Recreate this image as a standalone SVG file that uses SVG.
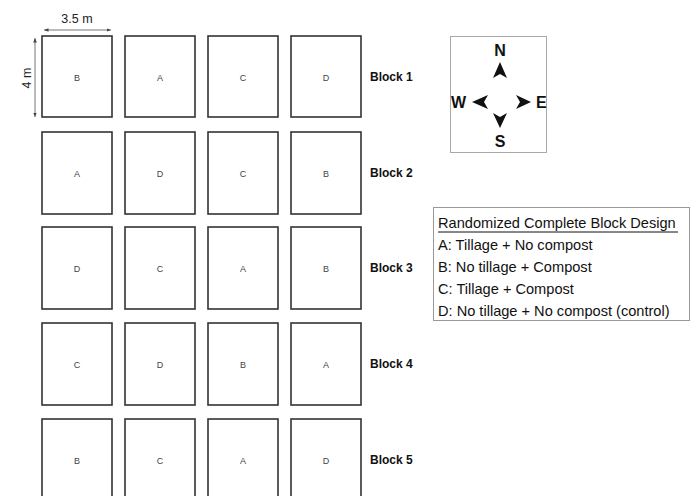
<svg xmlns="http://www.w3.org/2000/svg" width="698" height="496" viewBox="0 0 698 496">
<defs>
<style>
.plot{fill:#fff;stroke:#333;stroke-width:1.6}
.lt{font-family:"Liberation Sans",Arial,sans-serif;font-size:9px;fill:#444;text-anchor:middle}
.blk{font-family:"Liberation Sans",Arial,sans-serif;font-size:12px;font-weight:bold;fill:#111}
.dim{stroke:#666;stroke-width:0.9;fill:none}
.dimt{font-family:"Liberation Sans",Arial,sans-serif;font-size:12.5px;fill:#222}
.cp{font-family:"Liberation Sans",Arial,sans-serif;font-size:16px;font-weight:bold;fill:#111}
.leg{font-family:"Liberation Sans",Arial,sans-serif;font-size:14.6px;fill:#111}
</style>
<marker id="ah" viewBox="0 0 10 10" refX="10" refY="5" markerWidth="5" markerHeight="5" orient="auto-start-reverse">
<path d="M0,1 L10,5 L0,9 Z" fill="#444"/>
</marker>
</defs>
<rect width="698" height="496" fill="#fff"/>

<g id="dimensions">
<line class="dim" x1="44" y1="30" x2="111" y2="30" marker-start="url(#ah)" marker-end="url(#ah)"/>
<text class="dimt" x="77" y="23" text-anchor="middle">3.5 m</text>
<line class="dim" x1="35" y1="38" x2="35" y2="117" marker-start="url(#ah)" marker-end="url(#ah)"/>
<text class="dimt" transform="translate(31,78) rotate(-90)" text-anchor="middle">4 m</text>
</g>

<g id="block1">
<rect class="plot" x="42" y="36" width="70" height="81"/><text class="lt" x="77" y="81">B</text>
<rect class="plot" x="125" y="36" width="70" height="81"/><text class="lt" x="160" y="81">A</text>
<rect class="plot" x="208" y="36" width="70" height="81"/><text class="lt" x="243" y="81">C</text>
<rect class="plot" x="291" y="36" width="70" height="81"/><text class="lt" x="326" y="81">D</text>
<text class="blk" x="370" y="81">Block 1</text>
</g>
<g id="block2">
<rect class="plot" x="42" y="132" width="70" height="82"/><text class="lt" x="77" y="177">A</text>
<rect class="plot" x="125" y="132" width="70" height="82"/><text class="lt" x="160" y="177">D</text>
<rect class="plot" x="208" y="132" width="70" height="82"/><text class="lt" x="243" y="177">C</text>
<rect class="plot" x="291" y="132" width="70" height="82"/><text class="lt" x="326" y="177">B</text>
<text class="blk" x="370" y="177">Block 2</text>
</g>
<g id="block3">
<rect class="plot" x="42" y="227" width="70" height="82"/><text class="lt" x="77" y="272">D</text>
<rect class="plot" x="125" y="227" width="70" height="82"/><text class="lt" x="160" y="272">C</text>
<rect class="plot" x="208" y="227" width="70" height="82"/><text class="lt" x="243" y="272">A</text>
<rect class="plot" x="291" y="227" width="70" height="82"/><text class="lt" x="326" y="272">B</text>
<text class="blk" x="370" y="272">Block 3</text>
</g>
<g id="block4">
<rect class="plot" x="42" y="323" width="70" height="82"/><text class="lt" x="77" y="368">C</text>
<rect class="plot" x="125" y="323" width="70" height="82"/><text class="lt" x="160" y="368">D</text>
<rect class="plot" x="208" y="323" width="70" height="82"/><text class="lt" x="243" y="368">B</text>
<rect class="plot" x="291" y="323" width="70" height="82"/><text class="lt" x="326" y="368">A</text>
<text class="blk" x="370" y="368">Block 4</text>
</g>
<g id="block5">
<rect class="plot" x="42" y="419" width="70" height="82"/><text class="lt" x="77" y="464">B</text>
<rect class="plot" x="125" y="419" width="70" height="82"/><text class="lt" x="160" y="464">C</text>
<rect class="plot" x="208" y="419" width="70" height="82"/><text class="lt" x="243" y="464">A</text>
<rect class="plot" x="291" y="419" width="70" height="82"/><text class="lt" x="326" y="464">D</text>
<text class="blk" x="370" y="464">Block 5</text>
</g>

<g id="compass">
<rect x="450.5" y="36.5" width="96" height="116" fill="#fff" stroke="#aaa" stroke-width="1"/>
<text class="cp" x="500" y="56" text-anchor="middle">N</text>
<text class="cp" x="451" y="108">W</text>
<text class="cp" x="536" y="108">E</text>
<text class="cp" x="500" y="147" text-anchor="middle">S</text>
<path d="M500,62 L507,78 L500,74 L493,78 Z" fill="#111"/>
<path d="M500,128 L507,113 L500,117 L493,113 Z" fill="#111"/>
<path d="M472,102 L488,95 L484,102 L488,109 Z" fill="#111"/>
<path d="M531,102 L516,95 L520,102 L516,109 Z" fill="#111"/>
</g>

<g id="legend">
<rect x="433.5" y="207.5" width="256" height="113" fill="#fff" stroke="#999" stroke-width="1"/>
<text class="leg" x="438" y="228">Randomized Complete Block Design</text>
<line x1="438" y1="232" x2="678" y2="232" stroke="#111" stroke-width="1"/>
<text class="leg" x="438" y="250">A: Tillage + No compost</text>
<text class="leg" x="438" y="272">B: No tillage + Compost</text>
<text class="leg" x="438" y="294">C: Tillage + Compost</text>
<text class="leg" x="438" y="316">D: No tillage + No compost (control)</text>
</g>
</svg>
